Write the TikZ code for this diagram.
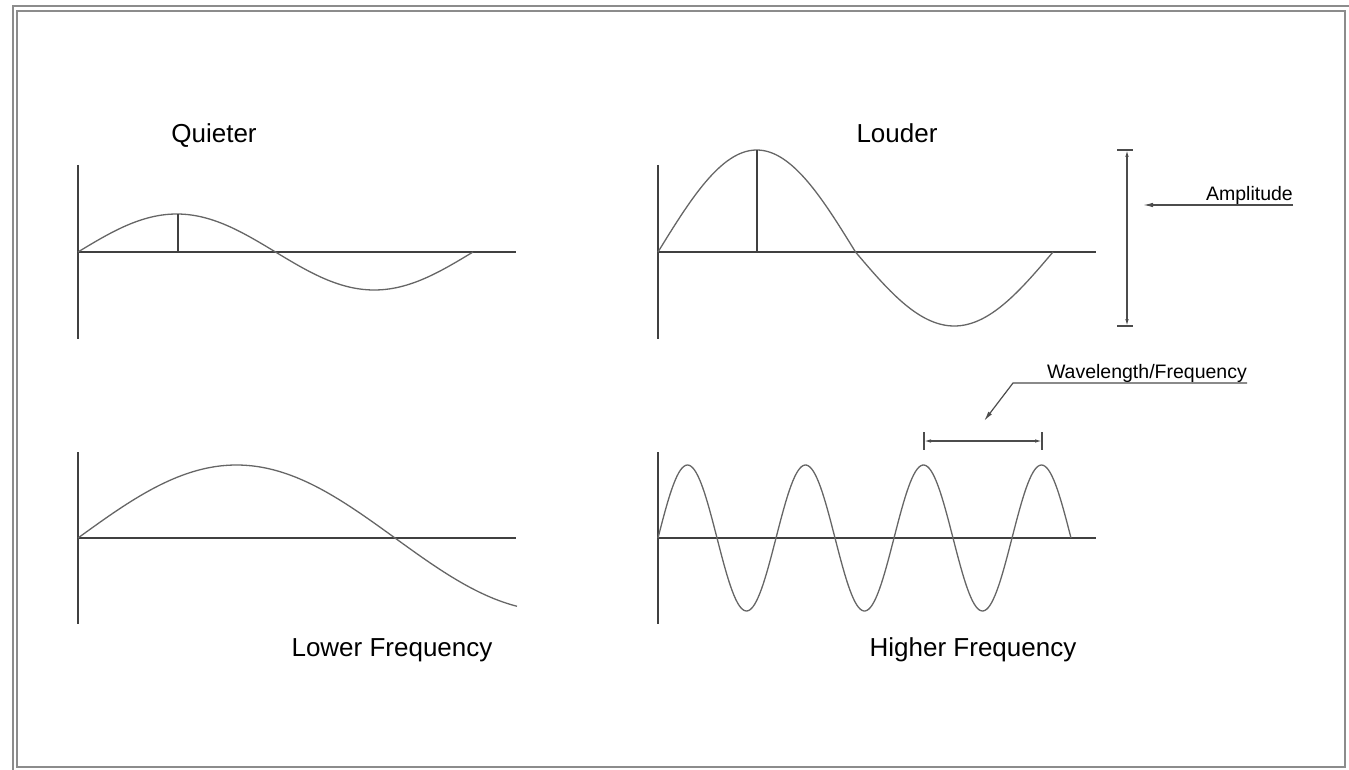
\documentclass[tikz,border=0pt]{standalone}
\usepackage{fontspec}
\setmainfont{Liberation Sans}
\usetikzlibrary{arrows.meta}
\begin{document}
\begin{tikzpicture}[x=1pt,y=-1pt,
  axis/.style={line width=1.3pt,draw=black!75},
  wave/.style={line width=1.3pt,draw=black!60},
  title/.style={font=\fontsize{26}{30}\selectfont,anchor=base,inner sep=0pt,text=black},
  note/.style={font=\fontsize{19.5}{23}\selectfont,anchor=base east,inner sep=0pt,text=black},
  dim/.style={line width=1.2pt,draw=black!70},
  tip/.style={-{Latex[length=10pt,width=4.5pt]}},
  frame/.style={line width=1.8pt,draw=black!45}]
\useasboundingbox (0,0) rectangle (1349,770);
% frame
\draw[frame] (13,770) -- (13,6) -- (1349,6);
\draw[frame] (17,11) rectangle (1345,767);

% titles
\node[title] (tq) at (214,143) {Quieter};
\node[title] (tl) at (897,143) {Louder};
\node[title] (tlf) at (392,656) {Lower Frequency};
\node[title] (thf) at (973,656) {Higher Frequency};

% Quieter
\coordinate (q0) at (78,252);
\draw[axis] (78,165) -- (78,339);
\draw[axis] (q0) -- (516,252);
\draw[wave] plot[domain=0:395,samples=120] ({78+\x},{252-38*sin(\x/395*360)});
\draw[axis] (178,252) -- (178,214);

% Louder
\draw[axis] (658,165) -- (658,339);
\draw[axis] (658,252) -- (1096,252);
\draw[wave] plot[domain=0:197.5,samples=80] ({658+\x},{252-102*sin(\x/395*360)});
\draw[wave] plot[domain=197.5:395,samples=80] ({658+\x},{252-74*sin(\x/395*360)});
\draw[axis] (757,252) -- (757,150);

% Lower frequency
\draw[axis] (78,452) -- (78,624);
\draw[axis] (78,538) -- (516,538);
\draw[wave] plot[domain=0:439,samples=120] ({78+\x},{538-73*sin(\x/634*360)});

% Higher frequency
\draw[axis] (658,452) -- (658,624);
\draw[axis] (658,538) -- (1096,538);
\draw[wave] plot[domain=0:413,samples=240] ({658+\x},{538-73*sin(\x/118*360)});

% amplitude marker
\coordinate (at) at (1127,150);
\coordinate (ab) at (1127,326);
\draw[dim] (1117,150) -- (1133,150);
\draw[dim] (1117,326) -- (1133,326);
\draw[dim,{Latex[length=7pt,width=3.5pt]}-{Latex[length=7pt,width=3.5pt]}] (at) -- (ab);
\node[note] (amp) at (1293,201) {Amplitude};
\coordinate (aend) at (1293,205);
\coordinate (atip) at (1143,205);
\draw[dim,tip] (aend) -- (atip);

% wavelength marker
\coordinate (wl) at (924,441);
\coordinate (wr) at (1042,441);
\draw[dim] (924,432) -- (924,450);
\draw[dim] (1042,432) -- (1042,450);
\draw[dim,{Latex[length=7pt,width=3.5pt]}-{Latex[length=7pt,width=3.5pt]}] (wl) -- (wr);
\node[note] (wave) at (1247,378) {Wavelength/Frequency};
\coordinate (wend) at (1247,383);
\coordinate (wknee) at (1013,383);
\coordinate (wtip) at (984,421);
\draw[dim,tip] (wend) -- (wknee) -- (wtip);
\end{tikzpicture}
\end{document}
